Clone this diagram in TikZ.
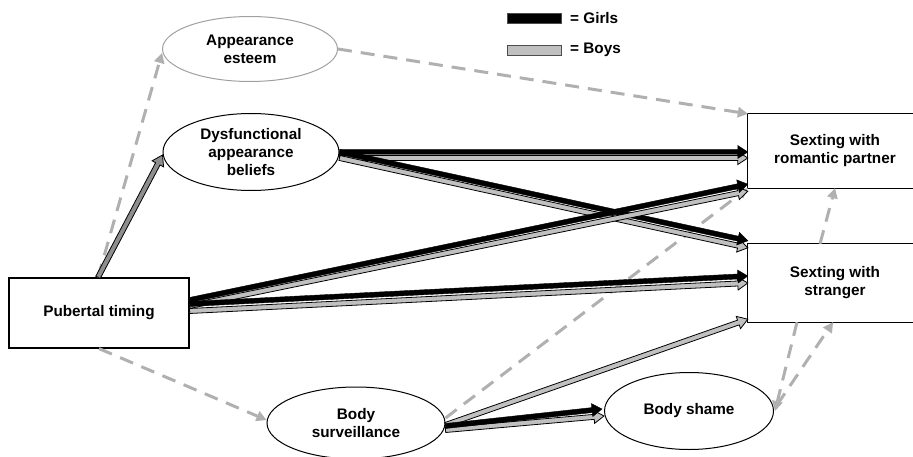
\documentclass[tikz,border=0pt]{standalone}
\usepackage{fontspec}
\setmainfont{Liberation Sans}
\usetikzlibrary{arrows.meta,calc,shapes.geometric}
\definecolor{dashc}{HTML}{B0B0B0}
\definecolor{boyc}{HTML}{C0C0C0}
\definecolor{midc}{HTML}{8E8E8E}
\definecolor{aec}{HTML}{A0A0A0}
\newcommand\blockarr[3]{%
  \path[#1] let \p1=(#2), \p2=(#3), \n1={atan2(\y2-\y1,\x2-\x1)} in
    ($(\p1)+(\n1+90:2.5pt)$) -- ($(\p2)+(\n1+180:10pt)+(\n1+90:2.5pt)$) -- ($(\p2)+(\n1+180:10pt)+(\n1+90:6.5pt)$) -- (\p2) -- ($(\p2)+(\n1+180:10pt)+(\n1-90:6.5pt)$) -- ($(\p2)+(\n1+180:10pt)+(\n1-90:2.5pt)$) -- ($(\p1)+(\n1-90:2.5pt)$) -- cycle;}
\begin{document}
\begin{tikzpicture}[x=1pt,y=1pt,
  every node/.style={font=\fontsize{15.3}{18}\selectfont\bfseries, align=center, inner sep=0pt},
  boxn/.style={draw=black, line width=1.2pt, fill=white, rectangle},
  rbox/.style={rectangle, minimum width=174pt},
  boxline/.style={draw=black, line width=1.2pt},
  elln/.style={draw=black, line width=1pt, fill=white, ellipse},
  dsh/.style={draw=dashc, line width=3pt, dash pattern=on 14pt off 9pt, -{Triangle[length=10pt,width=11pt,line width=0pt]}},
  girlsA/.style={fill=black, draw=black, line width=0.4pt},
  boysA/.style={fill=boyc, draw=black, line width=0.8pt},
  midA/.style={fill=midc, draw=black, line width=0.8pt}]
\useasboundingbox (0,0) rectangle (913,456);
% legend
\node[draw=black!70, fill=black, line width=0.8pt, minimum width=54pt, minimum height=10pt] (lgg) at (534,438) {};
\node[anchor=west] (lggt) at (570,438) {= Girls};
\node[draw=black!70, fill=boyc, line width=0.8pt, minimum width=54pt, minimum height=10pt] (lgb) at (534,406) {};
\node[anchor=west] (lgbt) at (570,406) {= Boys};
% nodes
\node[elln, draw=aec, minimum width=175pt, minimum height=65pt] (ae) at (250,407) {Appearance\\esteem};
\node[elln, minimum width=176pt, minimum height=77pt] (dys) at (251,304) {Dysfunctional\\appearance\\beliefs};
\node[boxn, minimum width=180pt, minimum height=70pt] (pub) at (99,143) {Pubertal timing};
\node[rbox, minimum height=74pt] (rom) at (835,305) {Sexting with\\romantic partner};
\node[rbox, minimum height=78pt] (str) at (835,173) {Sexting with\\stranger};
\draw[boxline] ([xshift=40pt]rom.north east) -- (rom.north west) -- (rom.south west) -- ([xshift=40pt]rom.south east);
\draw[boxline] ([xshift=40pt]str.north east) -- (str.north west) -- (str.south west) -- ([xshift=40pt]str.south east);
\node[elln, minimum width=178pt, minimum height=72pt] (bs) at (356,33) {Body\\surveillance};
\node[elln, minimum width=169pt, minimum height=77pt] (sh) at (689,45) {Body shame};
% dashed paths
\draw[dsh] ([xshift=-1pt]pub.north) -- ([yshift=-4pt]ae.west);
\draw[dsh] (ae.east) -- (rom.north west);
\draw[dsh] (pub.south) -- ([yshift=3pt]bs.west);
\draw[dsh] ([yshift=5pt]bs.east) -- (rom.south west);
\draw[dsh] ([xshift=-15pt]str.north) -- (rom.south);
\draw[dsh] ([xshift=-38pt]str.south) -- ([xshift=1pt]sh.east);
\draw[dsh] ([shift={(3pt,6pt)}]sh.east) -- ([xshift=-2pt]str.south);
% solid paths
\blockarr{midA}{[xshift=-1pt]pub.north}{[yshift=-3pt]dys.west}
\blockarr{boysA}{[yshift=-6pt]dys.east}{[yshift=-7pt]rom.west}
\blockarr{girlsA}{dys.east}{[yshift=-1pt]rom.west}
\blockarr{boysA}{[yshift=-6pt]dys.east}{[yshift=-4pt]str.north west}
\blockarr{girlsA}{dys.east}{[yshift=3pt]str.north west}
\blockarr{boysA}{[yshift=7pt]pub.east}{[yshift=-3pt]rom.south west}
\blockarr{girlsA}{[yshift=13pt]pub.east}{[yshift=4pt]rom.south west}
\blockarr{boysA}{[yshift=2pt]pub.east}{str.west}
\blockarr{girlsA}{[yshift=9pt]pub.east}{[yshift=7pt]str.west}
\blockarr{boysA}{[yshift=-2pt]bs.east}{[yshift=3pt]str.south west}
\blockarr{boysA}{[yshift=-7pt]bs.east}{[yshift=-5pt]sh.west}
\blockarr{girlsA}{[yshift=-3pt]bs.east}{[shift={(-2pt,2pt)}]sh.west}
\end{tikzpicture}
\end{document}
